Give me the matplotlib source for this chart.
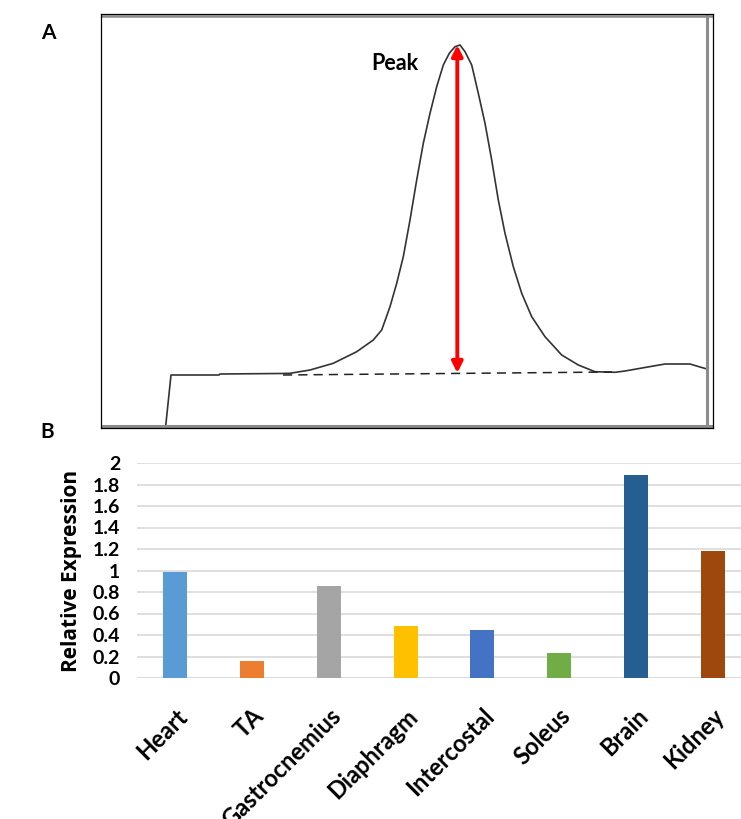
import numpy as np
import matplotlib
matplotlib.use('Agg')
import matplotlib.pyplot as plt

# Panel A: trace (time vs. signal)
trace_t = [64.7, 70, 118, 119, 180, 189, 209, 232.3, 255.7, 272.3, 280.7, 289, 295.7,
           302.3, 309, 315.7, 322.3, 329, 335.7, 342.3, 348.3, 354, 359, 364, 370.7,
           377.3, 384, 390.7, 397.3, 404, 412.3, 420.7, 430.7, 444, 460.7, 477.3, 494,
           514, 524, 541, 564, 589, 599, 606]
trace_s = [2, 53, 53, 54, 54.5, 54.7, 58, 64.7, 76.3, 88, 98, 121.3, 144.7,
           171.3, 208, 248, 284.7, 314.7, 341.3, 363, 374.7, 381.3, 383, 376.3, 363,
           334.7, 304.7, 268, 228, 194.7, 161.3, 134.7, 111.3, 91.3, 73, 63, 56.3,
           55.7, 57, 60, 64, 64, 61, 59]
base_t = [182, 511]
base_s = [53, 56]
peak_t = 356.3
peak_lo = 55
peak_hi = 383

# Panel B
tissues = ['Heart', 'TA', 'Gastrocnemius', 'Diaphragm', 'Intercostal', 'Soleus', 'Brain', 'Kidney']
expr = [0.99, 0.16, 0.86, 0.48, 0.445, 0.237, 1.89, 1.178]
colors = ['#5B9BD5', '#ED7D31', '#A5A5A5', '#FFC000', '#4472C4', '#70AD47', '#255E91', '#9E480E']
yticks = [0, 0.2, 0.4, 0.6, 0.8, 1, 1.2, 1.4, 1.6, 1.8, 2]
ylabels = ['0', '0.2', '0.4', '0.6', '0.8', '1', '1.2', '1.4', '1.6', '1.8', '2']

W, H = 741, 819
fig = plt.figure(figsize=(W / 100, H / 100), dpi=100)

# ---- panel A
axA = fig.add_axes([101 / W, (H - 428) / H, 612 / W, 414 / H])
axA.plot(trace_t, trace_s, color='#333333', lw=1.2)
axA.plot(base_t, base_s, color='#222222', lw=1.1, ls=(0, (6, 4)))
axA.annotate('', xy=(peak_t, peak_hi), xytext=(peak_t, peak_lo),
             arrowprops=dict(arrowstyle='<|-|>', color='#FF0000', lw=2.8,
                             mutation_scale=16, shrinkA=0, shrinkB=0))
axA.text(270, 358, 'Peak', fontsize=15.5, fontweight='bold', family='Lato', va='baseline')
axA.set_xlim(0, 612)
axA.set_ylim(0, 414)
axA.set_xticks([])
axA.set_yticks([])
for s in axA.spines.values():
    s.set_color('black')
    s.set_linewidth(0.9)
# inner grey frame lines
axA.axvline(606, color='#8C8C8C', lw=2.2)
axA.axhline(2, color='#8C8C8C', lw=2.2)
axA.axhline(412.5, color='#8C8C8C', lw=1.8)

fig.text(48 / W, 1 - 33 / H, 'A', fontsize=15, fontweight='bold', family='Lato', ha='center', va='center')
fig.text(47 / W, 1 - 432 / H, 'B', fontsize=15, fontweight='bold', family='Lato', ha='center', va='center')

# ---- panel B
axB = fig.add_axes([137 / W, 141 / H, 614 / W, 215 / H])
x = np.arange(len(tissues))
axB.bar(x, expr, width=0.31, color=colors, zorder=3)
axB.set_xlim(-0.5, len(tissues) - 0.5)
axB.set_ylim(0, 2)
axB.set_yticks(yticks)
axB.set_yticklabels(ylabels, fontsize=14, fontweight='bold', family='Lato')
axB.yaxis.grid(True, color='#D9D9D9', lw=1.2, zorder=0)
axB.tick_params(axis='y', length=0, pad=12)
axB.tick_params(axis='x', length=0, pad=19)
axB.set_xticks(x)
axB.set_xticklabels(tissues, rotation=45, ha='right', rotation_mode='anchor',
                    fontsize=17, fontweight='bold', family='Lato')
for s in axB.spines.values():
    s.set_visible(False)
axB.axhline(0, color='#D9D9D9', lw=1.2, zorder=1)
axB.set_ylabel('Relative Expression', fontsize=15, fontweight='bold', family='Open Sans', labelpad=8)

fig.savefig('out.png', dpi=100)
